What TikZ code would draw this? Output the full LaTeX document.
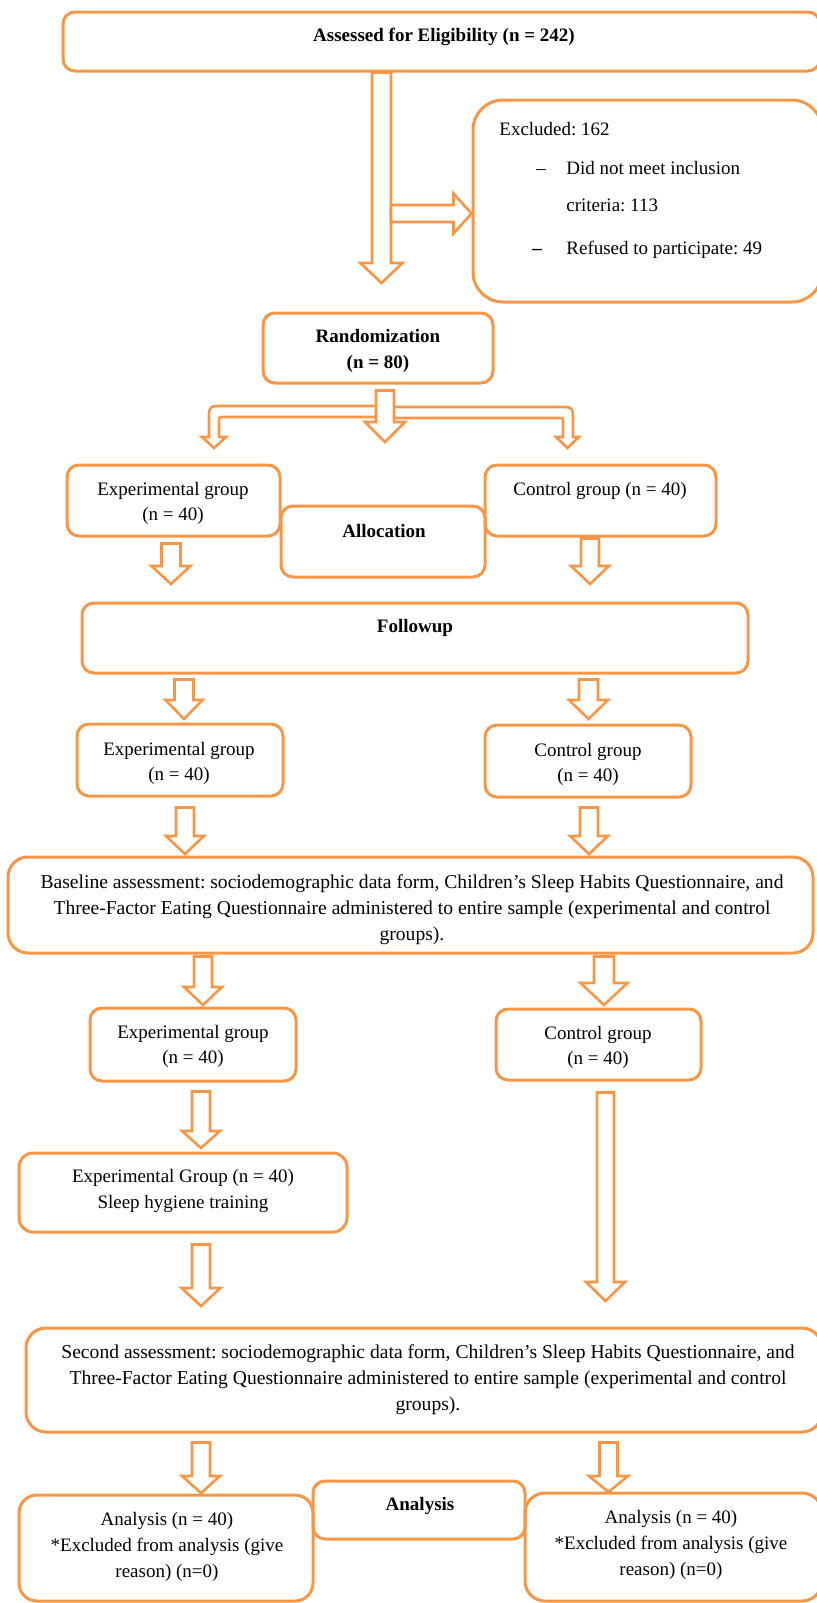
\documentclass[tikz,border=0pt]{standalone}
\usepackage{fontspec}
\setmainfont{Liberation Serif}
\usetikzlibrary{calc}
\frenchspacing

\definecolor{boxorange}{HTML}{F79646}

% hollow block arrow pointing down: from node anchor #1 to tip #2,
% shaft half width #3, head half width #4, head length #5, gap below the box #6
\newcommand{\blockdown}[6]{%
  \draw[blockarrow] ($(#2 |- #1)+(-#3,#6)$) -- ($(#2 |- #1)+(#3,#6)$)
    -- ($(#2)+(#3,-#5)$) -- ($(#2)+(#4,-#5)$) -- (#2)
    -- ($(#2)+(-#4,-#5)$) -- ($(#2)+(-#3,-#5)$) -- cycle;}

\tikzset{
  box/.style={draw=boxorange, line width=1.5pt, rectangle, rounded corners=6pt, inner sep=0pt},
  blockarrow/.style={draw=boxorange, line width=1.3pt, fill=white, line join=miter},
  txt/.style={font=\fontsize{9.5}{12.8}\selectfont, align=center, inner sep=0pt},
  ttl/.style={txt, font=\fontsize{9.5}{12.8}\selectfont\bfseries},
  wide/.style={txt, font=\fontsize{9.8}{13}\selectfont},
}

\begin{document}
\begin{tikzpicture}[x=0.5pt,y=-0.5pt]
  \useasboundingbox (0,0) rectangle (817,1603);

  % boxes
  \node[box, minimum width=378.5pt, minimum height=29.5pt] (assess) at (441.5,41.5) {};
  \node[box, rounded corners=15pt, minimum width=174.5pt, minimum height=101pt] (excl) at (647.5,201) {};
  \node[box, minimum width=115pt, minimum height=35pt] (rand) at (378,348) {};
  \node[box, minimum width=106.5pt, minimum height=35.5pt] (exp1) at (173.5,500.5) {};
  \node[box, minimum width=102pt, minimum height=35.5pt] (alloc) at (383,541.5) {};
  \node[box, minimum width=115.5pt, minimum height=35.5pt] (ctrl1) at (600.5,500.5) {};
  \node[box, minimum width=333pt, minimum height=35pt] (follow) at (415,638) {};
  \node[box, minimum width=103pt, minimum height=36pt] (exp2) at (180,760) {};
  \node[box, minimum width=103pt, minimum height=36pt] (ctrl2) at (588,761) {};
  \node[box, rounded corners=10pt, minimum width=402.5pt, minimum height=48pt] (base) at (410.5,905) {};
  \node[box, minimum width=103pt, minimum height=36.5pt] (exp3) at (193,1044.5) {};
  \node[box, minimum width=102.5pt, minimum height=35.5pt] (ctrl3) at (598.5,1044.5) {};
  \node[box, rounded corners=7pt, minimum width=164pt, minimum height=39.5pt] (sleep) at (183,1192.5) {};
  \node[box, rounded corners=10pt, minimum width=398pt, minimum height=52pt] (second) at (424,1380) {};
  \node[box, rounded corners=9pt, minimum width=147pt, minimum height=53pt] (anL) at (166,1548) {};
  \node[box, minimum width=106pt, minimum height=29pt] (anC) at (419,1510) {};
  \node[box, rounded corners=10pt, minimum width=148.5pt, minimum height=54pt] (anR) at (673.5,1547) {};

  % texts
  \node[ttl] (assess-t) at (444,37) {Assessed for Eligibility (n = 242)};
  \node[txt, anchor=base west] (excl-t1) at (499,135.5) {Excluded: 162};
  \node[txt, anchor=base west] (excl-d1) at (536,174.5) {–};
  \node[txt, anchor=base west] (excl-t2) at (566,174.5) {Did not meet inclusion};
  \node[txt, anchor=base west] (excl-t3) at (566,211.5) {criteria: 113};
  \node[ttl, anchor=base west] (excl-d2) at (532,254.5) {–};
  \node[txt, anchor=base west] (excl-t4) at (566,254.5) {Refused to participate: 49};
  \node[ttl] (rand-t) at (378,351) {Randomization\\(n = 80)};
  \node[txt] (exp1-t) at (173,503.5) {Experimental group\\(n = 40)};
  \node[ttl] (alloc-t) at (384,531) {Allocation};
  \node[txt] (ctrl1-t) at (600,491) {Control group (n = 40)};
  \node[ttl] (follow-t) at (415,628) {Followup};
  \node[txt] (exp2-t) at (179,763.5) {Experimental group\\(n = 40)};
  \node[txt] (ctrl2-t) at (588,764.5) {Control group\\(n = 40)};
  \node[wide] (base-t) at (412,910)
    {Baseline assessment: sociodemographic data form, Children’s Sleep Habits Questionnaire, and\\
     Three-Factor Eating Questionnaire administered to entire sample (experimental and control\\
     groups).};
  \node[txt] (exp3-t) at (193,1046.5) {Experimental group\\(n = 40)};
  \node[txt] (ctrl3-t) at (598,1047.5) {Control group\\(n = 40)};
  \node[txt] (sleep-t) at (183,1191) {Experimental Group (n = 40)\\Sleep hygiene training};
  \node[wide] (second-t) at (428,1380)
    {Second assessment: sociodemographic data form, Children’s Sleep Habits Questionnaire, and\\
     Three-Factor Eating Questionnaire administered to entire sample (experimental and control\\
     groups).};
  \node[txt] (anL-t) at (167,1547) {Analysis (n = 40)\\*Excluded from analysis (give\\reason) (n=0)};
  \node[ttl] (anC-t) at (420,1506) {Analysis};
  \node[txt] (anR-t) at (671,1545) {Analysis (n = 40)\\*Excluded from analysis (give\\reason) (n=0)};

  % arrow tips
  \coordinate (aT) at (381.5,283);
  \coordinate (split) at (391,213.5);
  \coordinate (exTip) at (excl.west |- split);
  \coordinate (rT) at (385,442);
  \coordinate (brL) at (214,448);
  \coordinate (brR) at (567.5,448);
  \coordinate (e1T) at (171,584);
  \coordinate (c1T) at (590,584);
  \coordinate (f1T) at (184,719);
  \coordinate (f2T) at (588.5,719);
  \coordinate (e2T) at (185,854);
  \coordinate (c2T) at (589,854);
  \coordinate (b1T) at (203,1005);
  \coordinate (b2T) at (604,1005);
  \coordinate (e3T) at (201,1148);
  \coordinate (c3T) at (605.5,1301);
  \coordinate (sT) at (201,1306);
  \coordinate (s1T) at (201,1493);
  \coordinate (s2T) at (608.5,1492);

  % arrows
  \blockdown{assess.south}{aT}{9.5}{21}{20}{0}
  \draw[blockarrow] ($(split)+(0,-8.5)$) -- ($(exTip)+(-18,-8.5)$) -- ($(exTip)+(-18,-20)$)
    -- (exTip) -- ($(exTip)+(-18,20)$) -- ($(exTip)+(-18,8.5)$) -- ($(split)+(0,8.5)$) -- cycle;

  \draw[blockarrow] (384,406) -- (223,406) .. controls (209,406) .. (209,420) -- (209,437)
    -- (202,437) -- (brL) -- (226,437) -- (219,437) -- (219,422) .. controls (219,417) .. (224,417)
    -- (384,417) -- cycle;
  \draw[blockarrow] (384,407) -- (559,407) .. controls (573,407) .. (573,421) -- (573,437)
    -- (579,437) -- (brR) -- (556,437) -- (563,437) -- (563,422) .. controls (563,418) .. (559,418)
    -- (384,418) -- cycle;
  \blockdown{rand.south}{rT}{9}{20}{20}{6}

  \blockdown{exp1.south}{e1T}{9.5}{19.5}{18}{6}
  \blockdown{ctrl1.south}{c1T}{9}{19}{18}{1}
  \blockdown{follow.south}{f1T}{9.5}{18.5}{19}{5}
  \blockdown{follow.south}{f2T}{9.5}{19.5}{19}{5}
  \blockdown{exp2.south}{e2T}{9}{19}{18}{10}
  \blockdown{ctrl2.south}{c2T}{9}{19}{18}{9}
  \blockdown{base.south}{b1T}{9}{19}{18}{2}
  \blockdown{base.south}{b2T}{10}{23.5}{22}{2}
  \blockdown{exp3.south}{e3T}{9}{19}{17}{9}
  \blockdown{ctrl3.south}{c3T}{8.5}{19.5}{19}{11}
  \blockdown{sleep.south}{sT}{9}{19.5}{18}{11}
  \blockdown{second.south}{s1T}{9}{19}{17}{9}
  \blockdown{second.south}{s2T}{9}{19.5}{16}{9}
\end{tikzpicture}
\end{document}
